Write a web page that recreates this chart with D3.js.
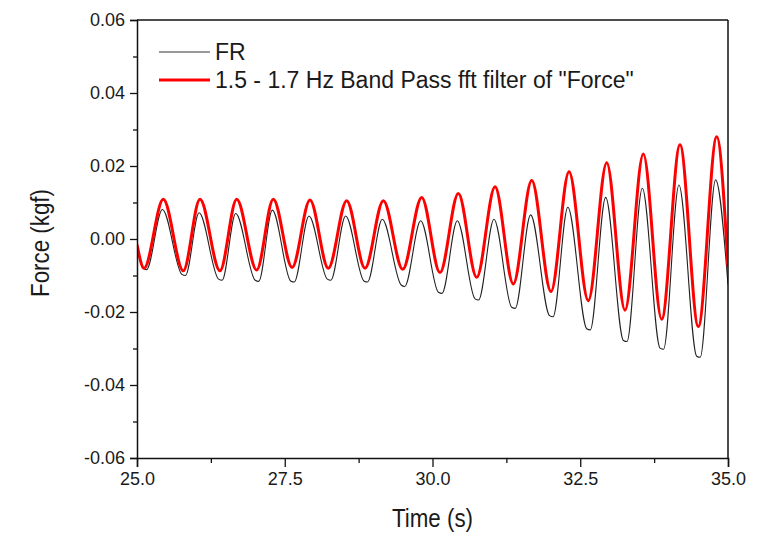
<!DOCTYPE html>
<html>
<head>
<meta charset="utf-8">
<script src="https://cdn.jsdelivr.net/npm/d3@7"></script>
<style>
  html, body { margin: 0; padding: 0; background: #fff; }
  svg { display: block; font-family: "Liberation Sans", Arial, sans-serif; }
</style>
</head>
<body>
<svg id="chart" width="783" height="543"></svg>
<script>
// ---- data ----
const seriesNames = ["FR", "1.5 - 1.7 Hz Band Pass fft filter of \"Force\""];

// band-pass filtered curve: start, alternating troughs/peaks, end
const filtTime = [25.0, 25.12, 25.445, 25.783, 26.066, 26.404, 26.687, 27.025, 27.306,
  27.625, 27.927, 28.237, 28.548, 28.858, 29.168, 29.496, 29.817, 30.127, 30.437,
  30.748, 31.058, 31.367, 31.679, 32.005, 32.310, 32.636, 32.948, 33.257, 33.567,
  33.878, 34.188, 34.498, 34.809, 35.0];
const filtForce = [-0.0015, -0.0080, 0.0109, -0.0087, 0.0109, -0.0087, 0.0109, -0.0085, 0.0109,
  -0.0078, 0.0107, -0.0080, 0.0105, -0.0080, 0.0105, -0.0083, 0.0114, -0.0092, 0.0125,
  -0.0105, 0.0143, -0.0123, 0.0160, -0.0144, 0.0184, -0.0169, 0.0209, -0.0195, 0.0233,
  -0.0220, 0.0258, -0.0240, 0.0280, -0.0076];

// raw FR curve: start, then for each cycle trough (two points, flat bottom) and peak, end
const frTime = [25.0, 25.10, 25.16, 25.43, 25.76, 25.82, 26.05, 26.38, 26.44, 26.67,
  27.00, 27.06, 27.29, 27.60, 27.66, 27.91, 28.22, 28.28, 28.53, 28.84, 28.90,
  29.15, 29.47, 29.53, 29.80, 30.10, 30.16, 30.42, 30.72, 30.78, 31.04, 31.34, 31.40,
  31.66, 31.98, 32.04, 32.29, 32.61, 32.67, 32.93, 33.23, 33.29, 33.55, 33.85, 33.91,
  34.17, 34.47, 34.53, 34.79, 35.0];
const frForce = [-0.0020, -0.0080, -0.0084, 0.0081, -0.0097, -0.0100, 0.0072, -0.0110, -0.0113,
  0.0070, -0.0113, -0.0116, 0.0079, -0.0115, -0.0118, 0.0063, -0.0110, -0.0113, 0.0063,
  -0.0115, -0.0118, 0.0054, -0.0126, -0.0130, 0.0050, -0.0146, -0.0149, 0.0050,
  -0.0164, -0.0167, 0.0054, -0.0187, -0.0190, 0.0066, -0.0210, -0.0213, 0.0087,
  -0.0246, -0.0249, 0.0114, -0.0278, -0.0281, 0.0139, -0.0299, -0.0302, 0.0148,
  -0.0321, -0.0324, 0.0162, -0.0125];

const xTicks = [25.0, 27.5, 30.0, 32.5, 35.0];
const xMinorTicks = [26.25, 28.75, 31.25, 33.75];
const yTicks = [-0.06, -0.04, -0.02, 0.00, 0.02, 0.04, 0.06];
const yMinorTicks = [-0.05, -0.03, -0.01, 0.01, 0.03, 0.05];

// ---- drawing ----
const svg = d3.select("#chart");
const L = 137, R = 728, T = 20, B = 458;
const x = d3.scaleLinear().domain([25, 35]).range([L, R]);
const y = d3.scaleLinear().domain([-0.06, 0.06]).range([B, T]);
const textColor = "#1a1a1a";

const fmtY = v => (Math.abs(v) < 1e-9 ? "0.00" : v.toFixed(2));
const fmtX = v => v.toFixed(1);

// curves
const line = d3.line().x(d => x(d[0])).y(d => y(d[1])).curve(d3.curveMonotoneX);
const frData = frTime.map((t, i) => [t, frForce[i]]);
const filtData = filtTime.map((t, i) => [t, filtForce[i]]);

svg.append("clipPath").attr("id", "clip")
  .append("rect").attr("x", L).attr("y", T).attr("width", R - L).attr("height", B - T);

const plot = svg.append("g").attr("clip-path", "url(#clip)");
plot.append("path").datum(frData).attr("d", line)
  .attr("fill", "none").attr("stroke", "#222").attr("stroke-width", 1.1);
plot.append("path").datum(filtData).attr("d", line)
  .attr("fill", "none").attr("stroke", "#ff0000").attr("stroke-width", 3);

// x axis
svg.append("g").attr("transform", `translate(0,${B})`)
  .call(d3.axisBottom(x).tickValues(xTicks).tickFormat(fmtX).tickSize(9).tickPadding(5));
svg.append("g").attr("transform", `translate(0,${B})`)
  .call(d3.axisBottom(x).tickValues(xMinorTicks).tickFormat("").tickSize(5))
  .select(".domain").remove();

// y axis
svg.append("g").attr("transform", `translate(${L},0)`)
  .call(d3.axisLeft(y).tickValues(yTicks).tickFormat(fmtY).tickSize(7).tickPadding(5));
svg.append("g").attr("transform", `translate(${L},0)`)
  .call(d3.axisLeft(y).tickValues(yMinorTicks).tickFormat("").tickSize(4))
  .select(".domain").remove();

svg.selectAll(".tick line").attr("stroke", "#111").attr("stroke-width", 1.3);
svg.selectAll(".domain").attr("stroke", "#111").attr("stroke-width", 1.5);
svg.selectAll(".tick text").attr("font-size", 18).attr("fill", textColor)
  .attr("font-family", "'Liberation Sans', Arial, sans-serif");

// frame top and right
svg.append("line").attr("x1", L).attr("x2", R).attr("y1", T).attr("y2", T)
  .attr("stroke", "#111").attr("stroke-width", 1.5);
svg.append("line").attr("x1", R).attr("x2", R).attr("y1", T).attr("y2", B)
  .attr("stroke", "#111").attr("stroke-width", 1.5);

// axis titles
svg.append("text")
  .attr("transform", `translate(${(L + R) / 2},527) scale(0.86,1)`)
  .attr("text-anchor", "middle").attr("font-size", 26).attr("fill", textColor)
  .text("Time (s)");
svg.append("text")
  .attr("transform", `translate(49,${(T + B) / 2 + 4}) rotate(-90) scale(0.86,1)`)
  .attr("text-anchor", "middle").attr("font-size", 26).attr("fill", textColor)
  .text("Force (kgf)");

// legend
const legend = svg.append("g");
const legendColors = ["#333", "#ff0000"];
const legendWidths = [1.1, 3];
seriesNames.forEach((name, i) => {
  const ly = 52 + i * 28;
  legend.append("line").attr("x1", 159).attr("x2", 210).attr("y1", ly).attr("y2", ly)
    .attr("stroke", legendColors[i]).attr("stroke-width", legendWidths[i]);
  legend.append("text").attr("x", 215).attr("y", ly + 8)
    .attr("font-size", 23).attr("fill", textColor).text(name);
});
</script>
</body>
</html>
